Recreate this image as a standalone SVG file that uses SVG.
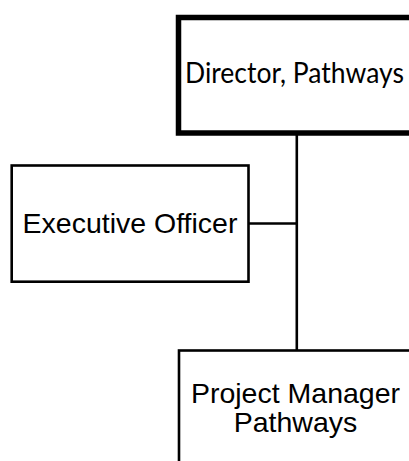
<svg xmlns="http://www.w3.org/2000/svg" width="409" height="461" viewBox="0 0 409 461">
  <style>
    .box { fill: #ffffff; stroke: #000000; }
    .thin { stroke-width: 2.6; }
    .thick { stroke-width: 5.5; }
    .sans { font-family: "Liberation Sans", Arial, sans-serif; font-size: 28.5px; fill: #000000; }
    .calibri { font-family: Lato, "Open Sans", sans-serif; font-size: 28.5px; fill: #000000; }
    .link { stroke: #000000; stroke-width: 2.6; fill: none; }
  </style>
  <rect width="409" height="461" fill="#ffffff"/>

  <!-- reporting lines -->
  <g id="connectors">
    <line class="link" x1="296.8" y1="133" x2="296.8" y2="350.5"/>
    <line class="link" x1="248.5" y1="223.5" x2="296.8" y2="223.5"/>
  </g>

  <g id="director">
    <rect class="box thick" x="178.5" y="17.5" width="260" height="115.5"/>
    <text class="calibri" x="294.5" y="83.3" text-anchor="middle" textLength="219" lengthAdjust="spacingAndGlyphs">Director, Pathways</text>
  </g>

  <g id="executive-officer">
    <rect class="box thin" x="11.7" y="165.5" width="236.8" height="116.2"/>
    <text class="sans" x="130" y="232.5" text-anchor="middle">Executive Officer</text>
  </g>

  <g id="project-manager">
    <rect class="box thin" x="179" y="350.5" width="260" height="130"/>
    <text class="sans" x="295.5" y="402.5" text-anchor="middle">Project Manager</text>
    <text class="sans" x="295.5" y="431.5" text-anchor="middle">Pathways</text>
  </g>
</svg>
